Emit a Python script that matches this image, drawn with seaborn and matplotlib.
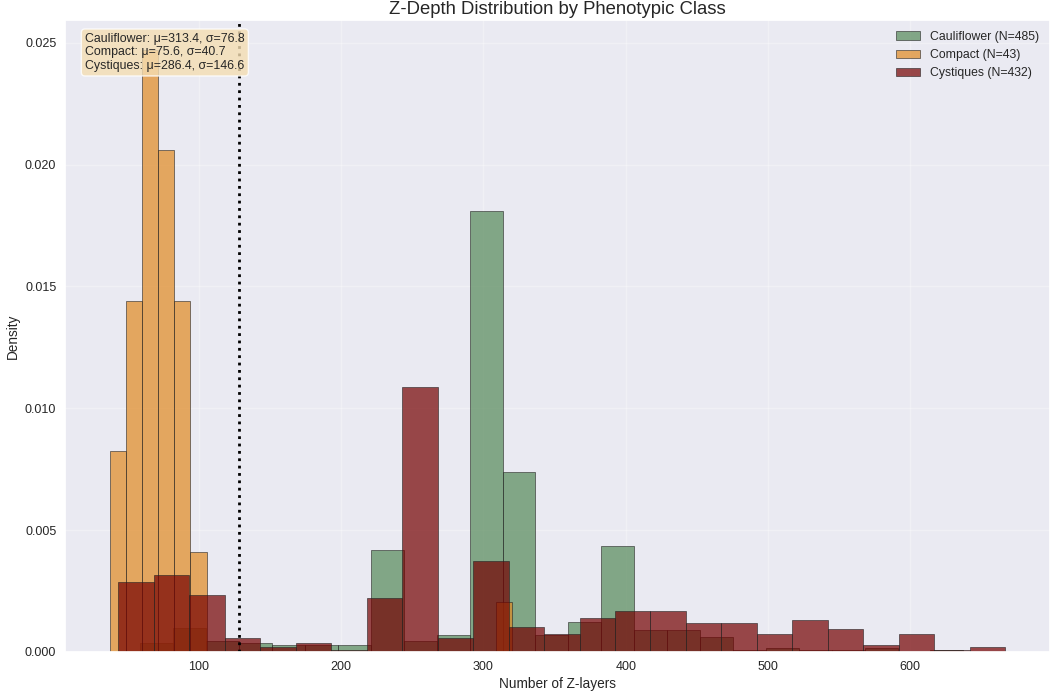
import numpy as np
import pandas as pd
import matplotlib
matplotlib.use("Agg")
import matplotlib.pyplot as plt
import seaborn as sns

# Per-class histogram data: bin range (min, max of each class) and counts in 25 equal bins
classes = ["Cauliflower", "Compact", "Cystiques"]
bin_lo = [58.8, 37.5, 43.3]
bin_hi = [637.4, 320.0, 666.8]

cauliflower_counts = [4, 11, 5, 4, 3, 3, 3, 47, 5, 8, 203, 83, 8,
                      14, 49, 10, 10, 7, 1, 2, 1, 1, 2, 0, 1]
compact_counts = [4, 7, 12, 10, 7, 2, 0, 0, 0, 0, 0, 0, 0,
                  0, 0, 0, 0, 0, 0, 0, 0, 0, 0, 0, 1]
cystiques_counts = [31, 34, 25, 6, 2, 4, 1, 24, 117, 6, 40, 11, 8,
                    15, 18, 18, 13, 13, 8, 14, 10, 3, 8, 1, 2]
counts = [cauliflower_counts, compact_counts, cystiques_counts]

# Summary statistics per class
means = [313.4, 75.6, 286.4]
sds = [76.8, 40.7, 146.6]

threshold = 128
colors = ["#558958", "#E18921", "#740000"]

sns.set_theme(style="darkgrid")
plt.rcParams["font.family"] = ["Liberation Sans", "DejaVu Sans"]

fig = plt.figure(figsize=(10.54, 6.93), dpi=100)
ax = fig.add_axes([0.0620, 0.0592, 0.9342, 0.9119])

for name, lo, hi, cnt, col in zip(classes, bin_lo, bin_hi, counts, colors):
    edges = np.linspace(lo, hi, len(cnt) + 1)
    df = pd.DataFrame({"z": (edges[:-1] + edges[1:]) / 2,
                       "w": np.asarray(cnt, dtype=float)})
    n = int(sum(cnt))
    sns.histplot(data=df, x="z", weights="w", bins=list(edges), stat="density",
                 color=col, alpha=0.7, edgecolor="#222222", linewidth=0.4,
                 label=f"{name} (N={n})", ax=ax)

ax.axvline(threshold, color="black", linestyle=":", linewidth=2.0)

ax.grid(True, alpha=0.3)
ax.set_title("Z-Depth Distribution by Phenotypic Class", fontsize=13.3, pad=4)
ax.set_xlabel("Number of Z-layers", fontsize=9.8, labelpad=3)
ax.set_ylabel("Density", fontsize=9.8, labelpad=4)
ax.tick_params(labelsize=9, length=0, pad=6.5)
ax.yaxis.set_major_formatter(matplotlib.ticker.FormatStrFormatter("%.3f"))

stats_text = "\n".join(f"{c}: μ={m:.1f}, σ={s:.1f}" for c, m, s in zip(classes, means, sds))
ax.text(0.02, 0.98, stats_text, transform=ax.transAxes, va="top", ha="left",
        fontsize=8.9, zorder=10,
        bbox=dict(boxstyle="round", facecolor="wheat", alpha=0.8))

ax.legend(loc="upper right", fontsize=8.8, frameon=False)

fig.savefig("out.png", dpi=100)
